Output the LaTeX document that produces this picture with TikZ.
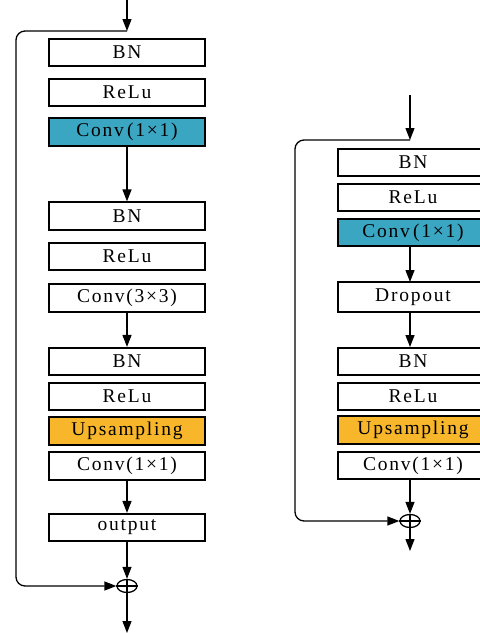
\documentclass[tikz,border=0pt]{standalone}
\usepackage{fontspec}
\setmainfont{Liberation Serif}[LetterSpace=9]
\usetikzlibrary{arrows.meta,shapes.geometric}
\definecolor{tealbox}{HTML}{3AA6C2}
\definecolor{orangebox}{HTML}{F8B62B}
\begin{document}
\begin{tikzpicture}[x=1pt,y=-1pt,
  box/.style={draw, line width=1.7pt, minimum height=27.5pt, inner sep=0pt,
    font=\fontsize{19.5}{19.5}\selectfont},
  lbox/.style={box, minimum width=156.5pt},
  rbox/.style={box, minimum width=150pt},
  arr/.style={-{Triangle[length=12pt,width=9pt]}, line width=1.3pt},
  plain/.style={line width=1.3pt},
  sum/.style={draw, ellipse, line width=1.3pt, minimum width=20pt, minimum height=13pt, inner sep=0pt}]
\useasboundingbox (0,0) rectangle (480,633);
\clip (0,0) rectangle (480,633);

% ---------- left column ----------
\coordinate (lin) at (127,0);
\coordinate (ljoin) at (127,31);
\node[lbox] (lbn1) at (127,52.5) {BN};
\node[lbox] (lrelu1) at (127,92.5) {ReLu};
\node[lbox, fill=tealbox] (lconv1) at (127,132) {Conv\,(1×1)};
\node[lbox] (lbn2) at (127,216) {BN};
\node[lbox] (lrelu2) at (127,256.5) {ReLu};
\node[lbox] (lconv3) at (127,298) {Conv(3×3)};
\node[lbox] (lbn3) at (127,361.5) {BN};
\node[lbox] (lrelu3) at (127,396.5) {ReLu};
\node[lbox, fill=orangebox] (lups) at (127,431) {Upsampling};
\node[lbox] (lconv4) at (127,466) {Conv(1×1)};
\node[lbox] (lout) at (127,527.5) {output};
\node[sum] (lsum) at (127,586) {};
\coordinate (lend) at (127,633);

\draw[arr] (lin) -- (ljoin);
\draw[arr, rounded corners=9pt] (ljoin) -- (16,31) -- (16,586) -- (lsum.west);
\draw[arr] (lconv1) -- (lbn2);
\draw[arr] (lconv3) -- (lbn3);
\draw[arr] (lconv4) -- (lout);
\draw[arr] (lout) -- (lsum.north);
\draw[plain] (lsum.north) -- (lsum.south) (lsum.west) -- (lsum.east);
\draw[arr] (lsum.south) -- (lend);

% ---------- right column ----------
\coordinate (rin) at (410,95);
\coordinate (rjoin) at (410,140);
\node[rbox] (rbn1) at (413,162.5) {BN};
\node[rbox] (rrelu1) at (413,197.5) {ReLu};
\node[rbox, fill=tealbox] (rconv1) at (413,232.5) {Conv\,(1×1)};
\node[rbox, minimum height=30pt] (rdrop) at (413,297) {Dropout};
\node[rbox] (rbn2) at (413,361.5) {BN};
\node[rbox] (rrelu2) at (413,396.5) {ReLu};
\node[rbox, fill=orangebox] (rups) at (413,430) {Upsampling};
\node[rbox] (rconv2) at (413,465.5) {Conv(1×1)};
\node[sum] (rsum) at (410,521) {};
\coordinate (rend) at (410,551);

\draw[arr] (rin) -- (rjoin);
\draw[arr, rounded corners=9pt] (rjoin) -- (295,140) -- (295,521) -- (rsum.west);
\draw[arr] (410,247) -- (410,282);
\draw[arr] (410,312) -- (410,347);
\draw[arr] (410,480) -- (rsum.north);
\draw[plain] (rsum.north) -- (rsum.south) (rsum.west) -- (rsum.east);
\draw[arr] (rsum.south) -- (rend);
\end{tikzpicture}
\end{document}
